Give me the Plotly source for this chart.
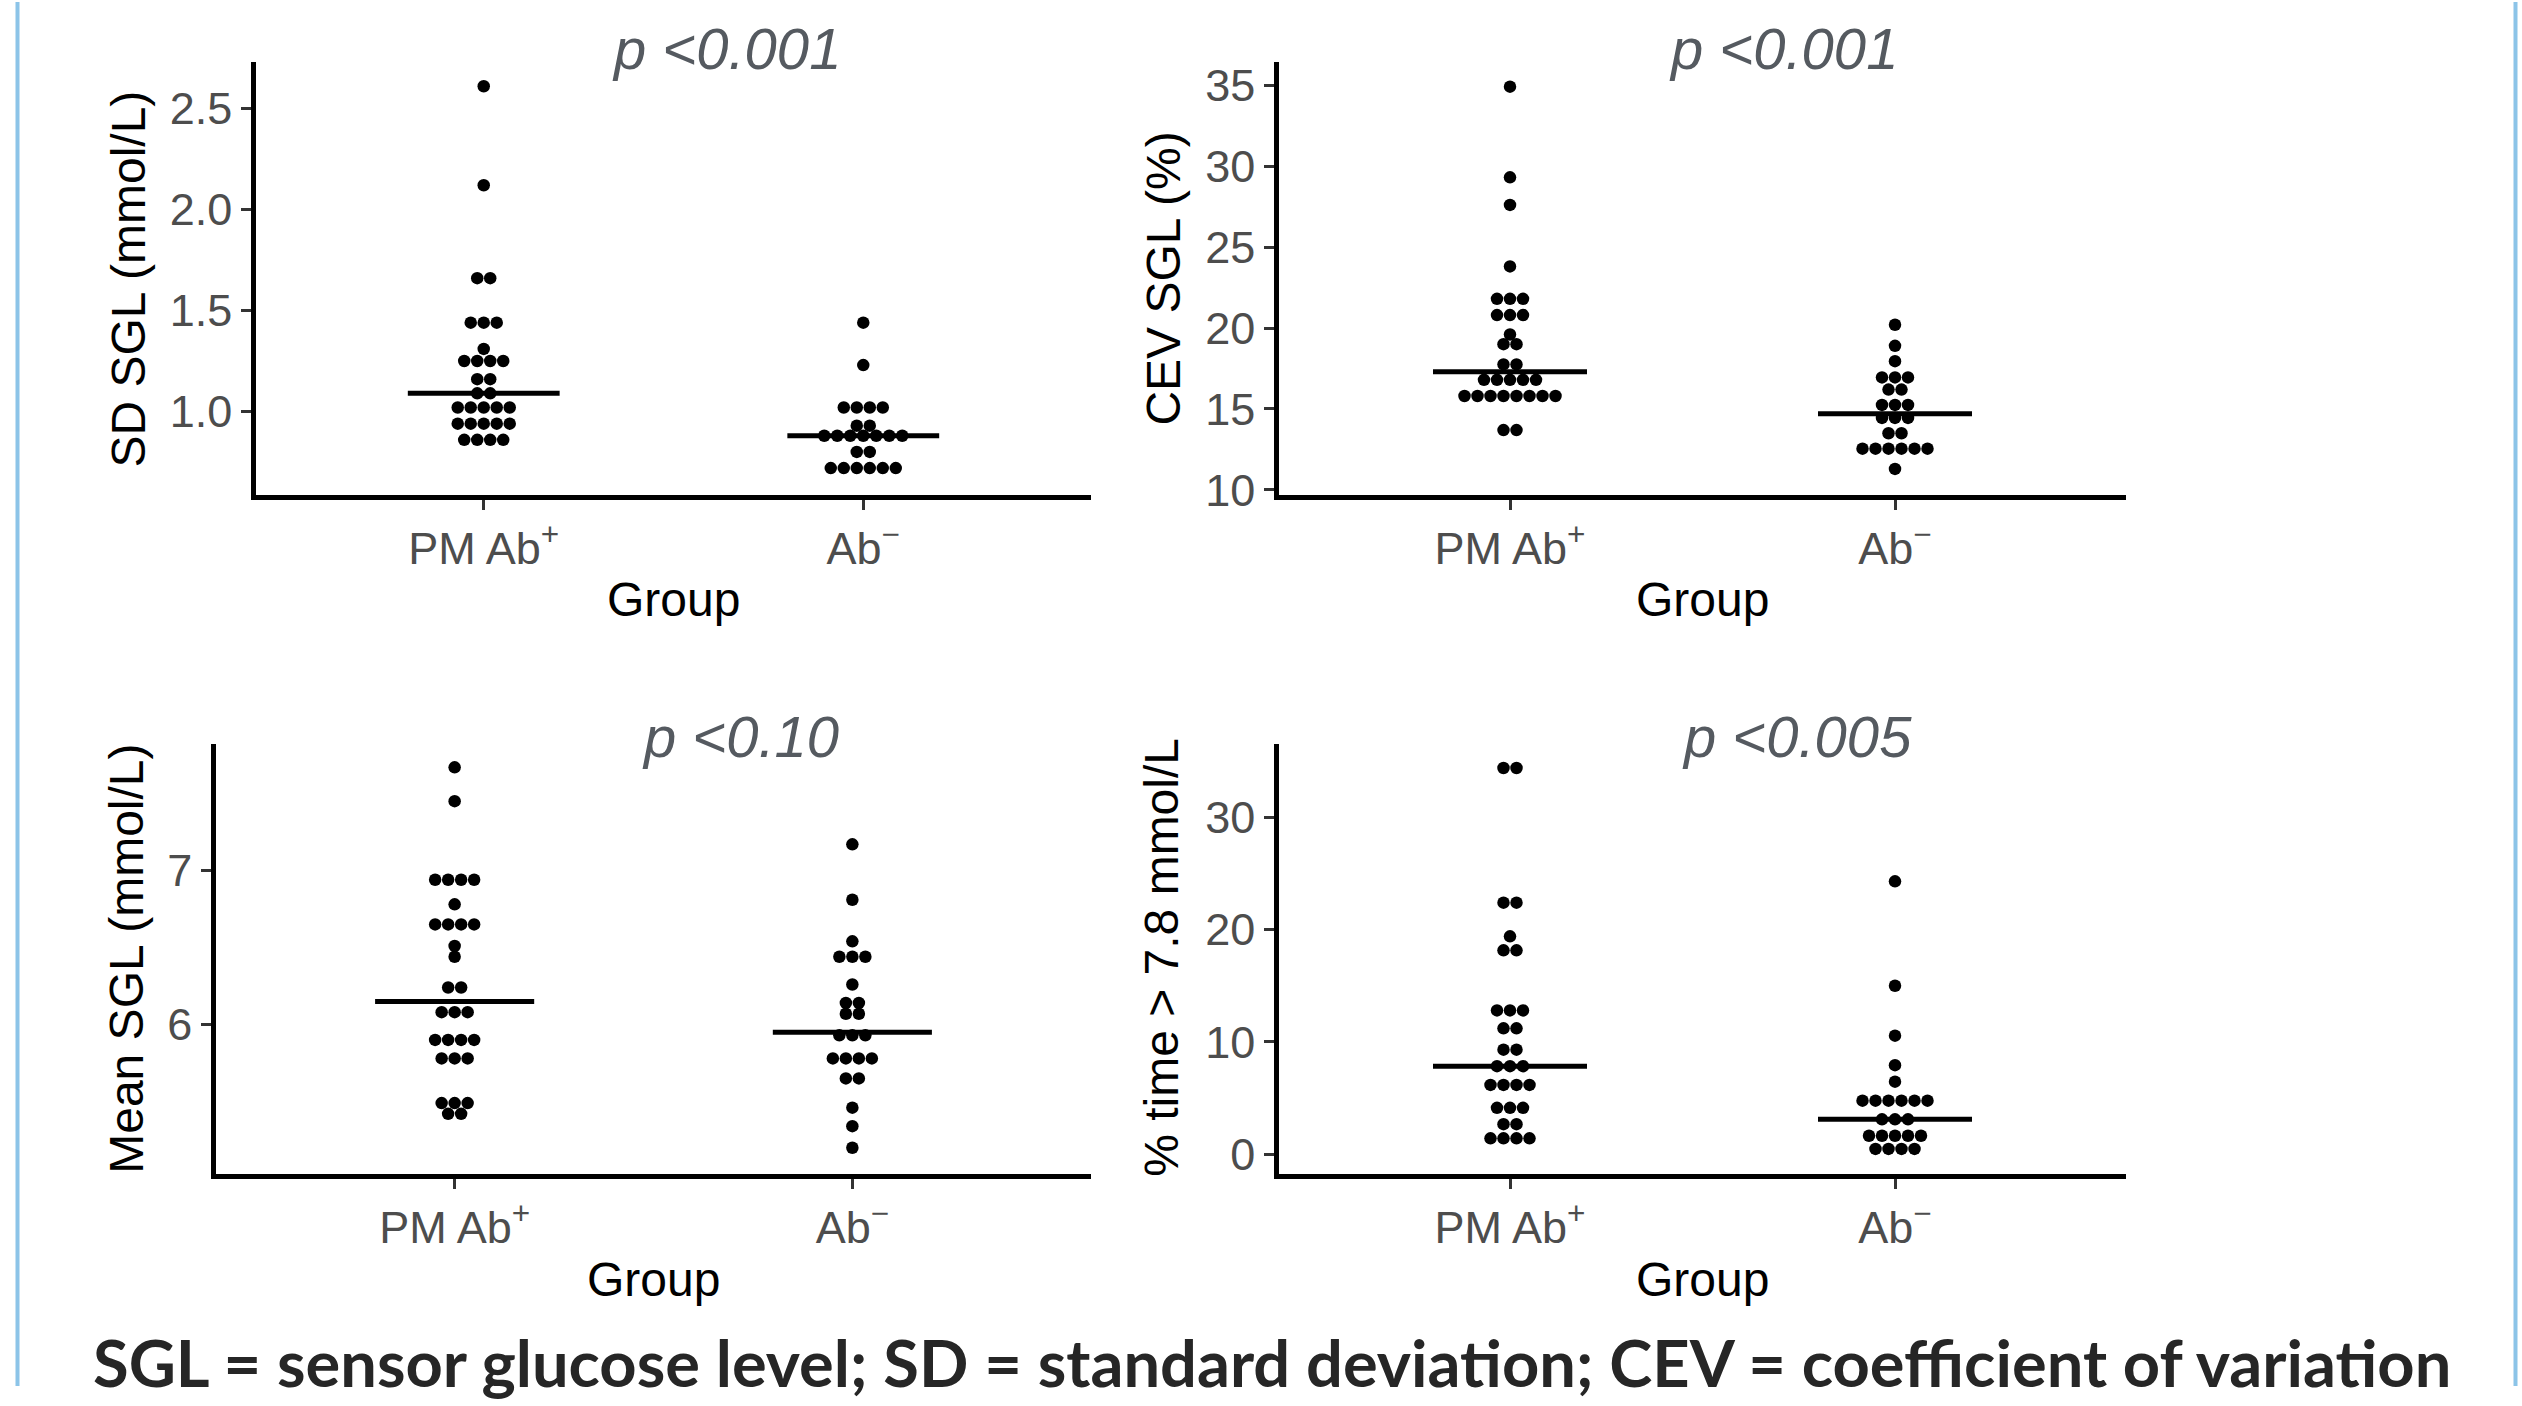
import plotly.graph_objects as go

W, H = 2522, 1406

# ---------------- data ----------------
group_labels = ["PM Ab<sup>+</sup>", "Ab<sup>−</sup>"]

sd_pm = [2.61, 2.12, 1.66, 1.66, 1.44, 1.44, 1.44, 1.31, 1.25, 1.25, 1.25, 1.25,
         1.16, 1.16, 1.09, 1.09, 1.02, 1.02, 1.02, 1.02, 1.02,
         0.94, 0.94, 0.94, 0.94, 0.94, 0.86, 0.86, 0.86, 0.86]
sd_neg = [1.44, 1.23, 1.02, 1.02, 1.02, 1.02, 0.93, 0.93,
          0.88, 0.88, 0.88, 0.88, 0.88, 0.88, 0.88, 0.80, 0.80,
          0.72, 0.72, 0.72, 0.72, 0.72, 0.72]
sd_median = [1.09, 0.88]

cev_pm = [34.9, 29.3, 27.6, 23.8, 21.8, 21.8, 21.8, 20.8, 20.8, 20.8, 19.6, 19.0, 19.0,
          17.75, 17.75, 16.8, 16.8, 16.8, 16.8, 16.8,
          15.8, 15.8, 15.8, 15.8, 15.8, 15.8, 15.8, 15.8, 13.7, 13.7]
cev_neg = [20.2, 18.9, 17.95, 16.95, 16.95, 16.95, 16.2, 16.2, 15.25, 15.25, 15.25,
           14.45, 14.45, 14.45, 13.5, 13.5, 12.55, 12.55, 12.55, 12.55, 12.55, 12.55, 11.3]
cev_median = [17.3, 14.7]

mean_pm = [7.67, 7.45, 6.94, 6.94, 6.94, 6.94, 6.78, 6.65, 6.65, 6.65, 6.65, 6.51, 6.44,
           6.24, 6.24, 6.08, 6.08, 6.08, 5.90, 5.90, 5.90, 5.90, 5.78, 5.78, 5.78,
           5.49, 5.49, 5.49, 5.42, 5.42]
mean_neg = [7.17, 6.81, 6.54, 6.44, 6.44, 6.44, 6.26, 6.14, 6.14, 6.07, 6.07,
            5.93, 5.93, 5.93, 5.78, 5.78, 5.78, 5.78, 5.65, 5.65, 5.46, 5.34, 5.20]
mean_median = [6.15, 5.95]

time_pm = [34.4, 34.4, 22.4, 22.4, 19.4, 18.15, 18.15, 12.8, 12.8, 12.8, 11.2, 11.2,
           9.3, 9.3, 7.83, 7.83, 7.83, 6.16, 6.16, 6.16, 6.16, 4.12, 4.12, 4.12,
           2.66, 2.66, 1.40, 1.40, 1.40, 1.40]
time_neg = [24.3, 15.0, 10.55, 7.92, 6.45, 4.76, 4.76, 4.76, 4.76, 4.76, 4.76,
            3.09, 3.09, 3.09, 1.63, 1.63, 1.63, 1.63, 1.63, 0.46, 0.46, 0.46, 0.46]
time_median = [7.83, 3.09]

y_titles = ["SD SGL (mmol/L)", "CEV SGL (%)", "Mean SGL (mmol/L)", "% time > 7.8 mmol/L"]
p_texts = ["p <0.001", "p <0.001", "p <0.10", "p <0.005"]
x_title = "Group"
caption = "SGL = sensor glucose level; SD = standard deviation; CEV = coefficient of variation"

y_ticks = [[1.0, 1.5, 2.0, 2.5], [10, 15, 20, 25, 30, 35], [6, 7], [0, 10, 20, 30]]
y_ticktext = [["1.0", "1.5", "2.0", "2.5"], ["10", "15", "20", "25", "30", "35"],
              ["6", "7"], ["0", "10", "20", "30"]]
y_ranges = [[0.586, 2.73], [9.68, 36.42], [5.027, 7.82], [-1.81, 36.52]]

# ---------------- layout geometry (pixels) ----------------
panels = [
    dict(vals=[sd_pm, sd_neg], med=sd_median, x0=256, x1=1091, y0=61, y1=501,
         ytx=129, yty=282, px=727, py=47, gy=607),
    dict(vals=[cev_pm, cev_neg], med=cev_median, x0=1279, x1=2126, y0=61, y1=501,
         ytx=1164, yty=281, px=1783, py=47, gy=607),
    dict(vals=[mean_pm, mean_neg], med=mean_median, x0=216, x1=1091, y0=754, y1=1191,
         ytx=127, yty=972, px=740, py=746, gy=1298),
    dict(vals=[time_pm, time_neg], med=time_median, x0=1279, x1=2126, y0=754, y1=1191,
         ytx=1162, yty=971, px=1797, py=746, gy=1298),
]

DOT_STEP_PX = 13.0
DOT_SIZE = 12.5
TICK_COLOR = "#4d4d4d"
FONT = "Liberation Sans, Arial, sans-serif"

fig = go.Figure()
annotations = []
layout_axes = {}

for i, p in enumerate(panels):
    k = "" if i == 0 else str(i + 1)
    xa, ya = "x" + k, "y" + k
    unit_px = (p["x1"] - p["x0"]) / 2.2
    step = DOT_STEP_PX / unit_px
    for g, vals in enumerate(p["vals"]):
        center = g + 1
        counts = {}
        for v in vals:
            counts[v] = counts.get(v, 0) + 1
        xs, ys = [], []
        for v, n in counts.items():
            for j in range(n):
                xs.append(center + (j - (n - 1) / 2) * step)
                ys.append(v)
        fig.add_trace(go.Scatter(x=xs, y=ys, mode="markers", xaxis=xa, yaxis=ya,
                                 marker=dict(color="black", size=DOT_SIZE, line=dict(width=0)),
                                 showlegend=False, hoverinfo="y"))
    for g, m in enumerate(p["med"]):
        center = g + 1
        fig.add_trace(go.Scatter(x=[center - 0.2, center + 0.2], y=[m, m], mode="lines",
                                 xaxis=xa, yaxis=ya, line=dict(color="black", width=5),
                                 showlegend=False, hoverinfo="skip"))
    common = dict(showline=True, linecolor="black", linewidth=4.5, ticks="outside",
                  ticklen=10, tickwidth=3, tickcolor="#333333", showgrid=False,
                  zeroline=False, fixedrange=True,
                  tickfont=dict(family=FONT, size=45, color=TICK_COLOR))
    layout_axes["xaxis" + k] = dict(common, domain=[p["x0"] / W, p["x1"] / W],
                                    anchor=ya, range=[0.4, 2.6], tickvals=[1, 2],
                                    ticktext=group_labels)
    layout_axes["yaxis" + k] = dict(common, domain=[1 - p["y1"] / H, 1 - p["y0"] / H],
                                    anchor=xa, range=y_ranges[i], tickvals=y_ticks[i],
                                    ticktext=y_ticktext[i])
    annotations.append(dict(x=p["ytx"] / W, y=1 - p["yty"] / H, xref="paper", yref="paper",
                            text=y_titles[i], textangle=-90, showarrow=False,
                            xanchor="center", yanchor="middle",
                            font=dict(family=FONT, size=48, color="black")))
    annotations.append(dict(x=(p["x0"] + p["x1"]) / 2 / W, y=1 - p["gy"] / H,
                            xref="paper", yref="paper", text=x_title, showarrow=False,
                            xanchor="center", yanchor="middle",
                            font=dict(family=FONT, size=48, color="black")))
    annotations.append(dict(x=p["px"] / W, y=1 - p["py"] / H, xref="paper", yref="paper",
                            text="<i>" + p_texts[i] + "</i>", showarrow=False,
                            xanchor="center", yanchor="middle",
                            font=dict(family=FONT, size=58, color="#555a60")))

annotations.append(dict(x=1272 / W, y=1 - 1382 / H, xref="paper", yref="paper",
                        text="<b>" + caption + "</b>", showarrow=False,
                        xanchor="center", yanchor="middle",
                        font=dict(family="Lato, Open Sans, sans-serif", size=65,
                                  color="#262626")))

shapes = [
    dict(type="line", xref="paper", yref="paper", x0=17.5 / W, x1=17.5 / W, y0=0, y1=1,
         line=dict(color="#8cc4e8", width=4)),
    dict(type="line", xref="paper", yref="paper", x0=2515.5 / W, x1=2515.5 / W, y0=0, y1=1,
         line=dict(color="#8cc4e8", width=4)),
]

fig.update_layout(width=W, height=H, margin=dict(l=0, r=0, t=0, b=0),
                  paper_bgcolor="white", plot_bgcolor="white",
                  annotations=annotations, shapes=shapes, showlegend=False,
                  **layout_axes)

fig.write_html("out.html", config={"displayModeBar": False},
               post_script="document.body.style.margin='0';document.body.style.overflow='hidden';")
